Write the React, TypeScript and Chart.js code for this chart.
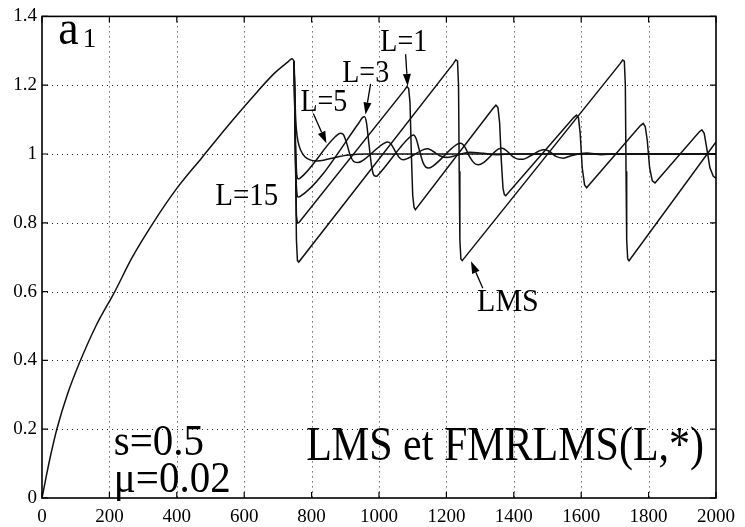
import React, { useEffect, useRef } from "react";
import { Chart, registerables } from "chart.js";

Chart.register(...registerables);

// ---- axes ----
const xTicks = [0, 200, 400, 600, 800, 1000, 1200, 1400, 1600, 1800, 2000];
const xTickLabels = ["0", "200", "400", "600", "800", "1000", "1200", "1400", "1600", "1800", "2000"];
const yTicks = [0, 0.2, 0.4, 0.6, 0.8, 1, 1.2, 1.4];
const yTickLabels = ["0", "0.2", "0.4", "0.6", "0.8", "1", "1.2", "1.4"];

// ---- data (t, value) ----
const rise: [number, number][] = [
  [0, 0], [12, 0.06], [27, 0.13], [44, 0.2], [75, 0.3], [110, 0.39], [160, 0.5], [216, 0.6],
  [268, 0.7], [330, 0.8], [400, 0.9], [475, 0.99], [550, 1.08], [620, 1.16], [690, 1.235],
  [730, 1.268], [742, 1.277], [748, 1.27],
];
const lms: [number, number][] = [
  [748, 1.27], [752, 1.0], [755, 0.75], [758, 0.69], [762, 0.686],
  [1220, 1.262], [1228, 1.274], [1233, 1.27], [1236, 1.2], [1238, 0.95], [1240, 0.75], [1243, 0.695], [1247, 0.69],
  [1715, 1.262], [1723, 1.273], [1728, 1.27], [1731, 1.2], [1733, 0.95], [1735, 0.75], [1738, 0.695], [1742, 0.69],
  [2000, 1.035],
];
const l1: [number, number][] = [
  [748, 1.27], [752, 1.0], [755, 0.82], [758, 0.8], [762, 0.8],
  [1075, 1.185], [1083, 1.196], [1088, 1.19], [1092, 1.15], [1096, 1.0], [1100, 0.88], [1104, 0.845], [1108, 0.838],
  [1338, 1.132], [1347, 1.142], [1353, 1.135], [1358, 1.09], [1363, 0.98], [1368, 0.9], [1372, 0.882], [1376, 0.879],
  [1577, 1.105], [1586, 1.113], [1592, 1.105], [1597, 1.06], [1603, 0.96], [1610, 0.91], [1616, 0.902],
  [1775, 1.082], [1784, 1.089], [1790, 1.08], [1796, 1.04], [1803, 0.96], [1811, 0.922], [1819, 0.916],
  [1950, 1.064], [1958, 1.07], [1965, 1.06], [1972, 1.02], [1982, 0.96], [1992, 0.935], [2000, 0.93],
];
const l3: [number, number][] = [
  [748, 1.27], [752, 1.0], [756, 0.89], [760, 0.875], [765, 0.876],
  [940, 1.09], [950, 1.105], [957, 1.108], [963, 1.09], [970, 1.03], [978, 0.965], [985, 0.938], [992, 0.935], [1000, 0.942],
  [1090, 1.048], [1102, 1.055], [1110, 1.045], [1120, 1.01], [1132, 0.972], [1146, 0.959], [1160, 0.965],
  [1230, 1.027], [1242, 1.031], [1255, 1.02], [1270, 0.99], [1283, 0.973], [1295, 0.969], [1310, 0.975],
  [1355, 1.015], [1366, 1.017], [1380, 1.008], [1400, 0.99], [1415, 0.985], [1428, 0.985], [1450, 0.995],
  [1488, 1.012], [1505, 1.008], [1525, 0.993], [1547, 0.988], [1570, 0.995], [1616, 1.003], [1660, 0.998],
  [1700, 1.0], [2000, 1.0],
];
const l5: [number, number][] = [
  [748, 1.27], [752, 1.05], [756, 0.94], [760, 0.928], [766, 0.93],
  [870, 1.05], [885, 1.06], [893, 1.058], [903, 1.035], [915, 0.995], [927, 0.977], [938, 0.975], [950, 0.98],
  [1010, 1.028], [1025, 1.035], [1035, 1.03], [1048, 1.008], [1060, 0.99], [1072, 0.983], [1085, 0.987],
  [1130, 1.012], [1145, 1.015], [1160, 1.008], [1180, 0.995], [1200, 0.99], [1230, 0.996], [1270, 1.005],
  [1310, 1.002], [1350, 0.998], [1400, 1.0], [2000, 1.0],
];
const l15: [number, number][] = [
  [748, 1.27], [750, 1.2], [752, 1.12], [755, 1.07], [760, 1.035], [768, 1.01], [780, 0.992], [795, 0.983],
  [815, 0.98], [840, 0.983], [870, 0.99], [910, 0.997], [960, 1.0], [2000, 1.0],
];

// ---- annotations (data coordinates) ----
const texts = [
  { text: "a", t: 48, v: 1.32, size: 46, sy: 1.05 },
  { text: "1", t: 121, v: 1.31, size: 27, sy: 1.05 },
  { text: "L=1", t: 1004, v: 1.299, size: 28, sy: 1.1 },
  { text: "L=3", t: 891, v: 1.21, size: 28, sy: 1.1 },
  { text: "L=5", t: 767, v: 1.124, size: 28, sy: 1.1 },
  { text: "L=15", t: 514, v: 0.853, size: 29, sy: 1.1 },
  { text: "LMS", t: 1291, v: 0.545, size: 30, sy: 1.05 },
  { text: "s=0.5", t: 213, v: 0.124, size: 41, sy: 1.1 },
  { text: "\u03bc=0.02", t: 213, v: 0.017, size: 41, sy: 1.1 },
  { text: "LMS et FMRLMS(L,*)", t: 784, v: 0.11, size: 42, sy: 1.15 },
];
const arrows: { from: [number, number]; to: [number, number] }[] = [
  { from: [1079, 1.29], to: [1085, 1.198] },
  { from: [975, 1.204], to: [960, 1.115] },
  { from: [805, 1.118], to: [844, 1.031] },
  { from: [1308, 0.61], to: [1273, 0.688] },
];

const FONT = '"Liberation Serif", "Times New Roman", serif';

const framePlugin = {
  id: "frame",
  beforeDatasetsDraw(chart: any) {
    const { ctx, chartArea, scales } = chart;
    const { left, right, top, bottom } = chartArea;
    ctx.save();
    ctx.strokeStyle = "#222";
    ctx.lineWidth = 1;
    ctx.setLineDash([1, 4]);
    for (const v of xTicks) {
      if (v <= 0 || v >= 2000) continue;
      const px = Math.round(scales.x.getPixelForValue(v)) + 0.5;
      ctx.beginPath();
      ctx.moveTo(px, top);
      ctx.lineTo(px, bottom);
      ctx.stroke();
    }
    for (const v of yTicks) {
      if (v <= 0 || v >= 1.4) continue;
      const py = Math.round(scales.y.getPixelForValue(v)) + 0.5;
      ctx.beginPath();
      ctx.moveTo(left, py);
      ctx.lineTo(right, py);
      ctx.stroke();
    }
    ctx.restore();
  },
  afterDatasetsDraw(chart: any) {
    const { ctx, chartArea, scales } = chart;
    const { left, right, top, bottom } = chartArea;
    ctx.save();
    ctx.setLineDash([]);
    ctx.strokeStyle = "#000";
    ctx.lineWidth = 1.6;
    ctx.strokeRect(left, top, right - left, bottom - top);
    ctx.lineWidth = 1.2;
    const tl = 6;
    for (const v of xTicks) {
      const px = scales.x.getPixelForValue(v);
      ctx.beginPath();
      ctx.moveTo(px, bottom);
      ctx.lineTo(px, bottom - tl);
      ctx.moveTo(px, top);
      ctx.lineTo(px, top + tl);
      ctx.stroke();
    }
    for (const v of yTicks) {
      const py = scales.y.getPixelForValue(v);
      ctx.beginPath();
      ctx.moveTo(left, py);
      ctx.lineTo(left + tl, py);
      ctx.moveTo(right, py);
      ctx.lineTo(right - tl, py);
      ctx.stroke();
    }
    ctx.fillStyle = "#000";
    ctx.textBaseline = "alphabetic";
    ctx.textAlign = "left";
    for (const a of texts) {
      ctx.save();
      ctx.font = `${a.size}px ${FONT}`;
      ctx.translate(scales.x.getPixelForValue(a.t), scales.y.getPixelForValue(a.v));
      ctx.scale(1, a.sy);
      ctx.fillText(a.text, 0, 0);
      ctx.restore();
    }
    ctx.lineWidth = 1.3;
    for (const a of arrows) {
      const x1 = scales.x.getPixelForValue(a.from[0]);
      const y1 = scales.y.getPixelForValue(a.from[1]);
      const x2 = scales.x.getPixelForValue(a.to[0]);
      const y2 = scales.y.getPixelForValue(a.to[1]);
      const ang = Math.atan2(y2 - y1, x2 - x1);
      const hl = 12, hw = 4;
      const bx = x2 - hl * Math.cos(ang);
      const by = y2 - hl * Math.sin(ang);
      ctx.beginPath();
      ctx.moveTo(x1, y1);
      ctx.lineTo(bx, by);
      ctx.stroke();
      ctx.beginPath();
      ctx.moveTo(x2, y2);
      ctx.lineTo(bx + hw * Math.sin(ang), by - hw * Math.cos(ang));
      ctx.lineTo(bx - hw * Math.sin(ang), by + hw * Math.cos(ang));
      ctx.closePath();
      ctx.fill();
    }
    ctx.restore();
  },
};

const toPts = (arr: [number, number][]) => arr.map(([x, y]) => ({ x, y }));

export default function App() {
  const ref = useRef<HTMLCanvasElement | null>(null);
  useEffect(() => {
    if (!ref.current) return;
    const series = [rise, lms, l1, l3, l5, l15];
    const chart = new Chart(ref.current, {
      type: "line",
      data: {
        datasets: series.map((s, i) => ({
          data: toPts(s),
          borderColor: "#111",
          borderWidth: 1.5,
          pointRadius: 0,
          fill: false,
          tension: 0,
          cubicInterpolationMode: i === 0 || i >= 3 ? ("monotone" as const) : ("default" as const),
        })),
      },
      options: {
        animation: false,
        responsive: false,
        devicePixelRatio: 1,
        parsing: false as any,
        layout: { padding: { top: 12, right: 29, left: 0, bottom: 0 } },
        plugins: { legend: { display: false }, tooltip: { enabled: false } },
        scales: {
          x: {
            type: "linear",
            min: 0,
            max: 2000,
            afterBuildTicks: (s: any) => {
              s.ticks = xTicks.map((value) => ({ value }));
            },
            afterFit: (s: any) => {
              s.height = 29;
            },
            grid: { display: false, drawTicks: false },
            border: { display: false },
            ticks: {
              padding: 8,
              maxRotation: 0,
              autoSkip: false,
              color: "#000",
              font: { family: FONT, size: 19 },
              callback: (_v: any, i: number) => xTickLabels[i],
            },
          },
          y: {
            type: "linear",
            min: 0,
            max: 1.4,
            afterBuildTicks: (s: any) => {
              s.ticks = yTicks.map((value) => ({ value }));
            },
            afterFit: (s: any) => {
              s.width = 42;
            },
            grid: { display: false, drawTicks: false },
            border: { display: false },
            ticks: {
              padding: 5,
              autoSkip: false,
              color: "#000",
              font: { family: FONT, size: 19 },
              callback: (_v: any, i: number) => yTickLabels[i],
            },
          },
        },
      },
      plugins: [framePlugin],
    });
    return () => chart.destroy();
  }, []);
  return (
    <div style={{ position: "fixed", left: 0, top: 0, width: 745, height: 527, background: "#fff" }}>
      <canvas ref={ref} width={745} height={527} style={{ width: 745, height: 527 }} />
    </div>
  );
}
